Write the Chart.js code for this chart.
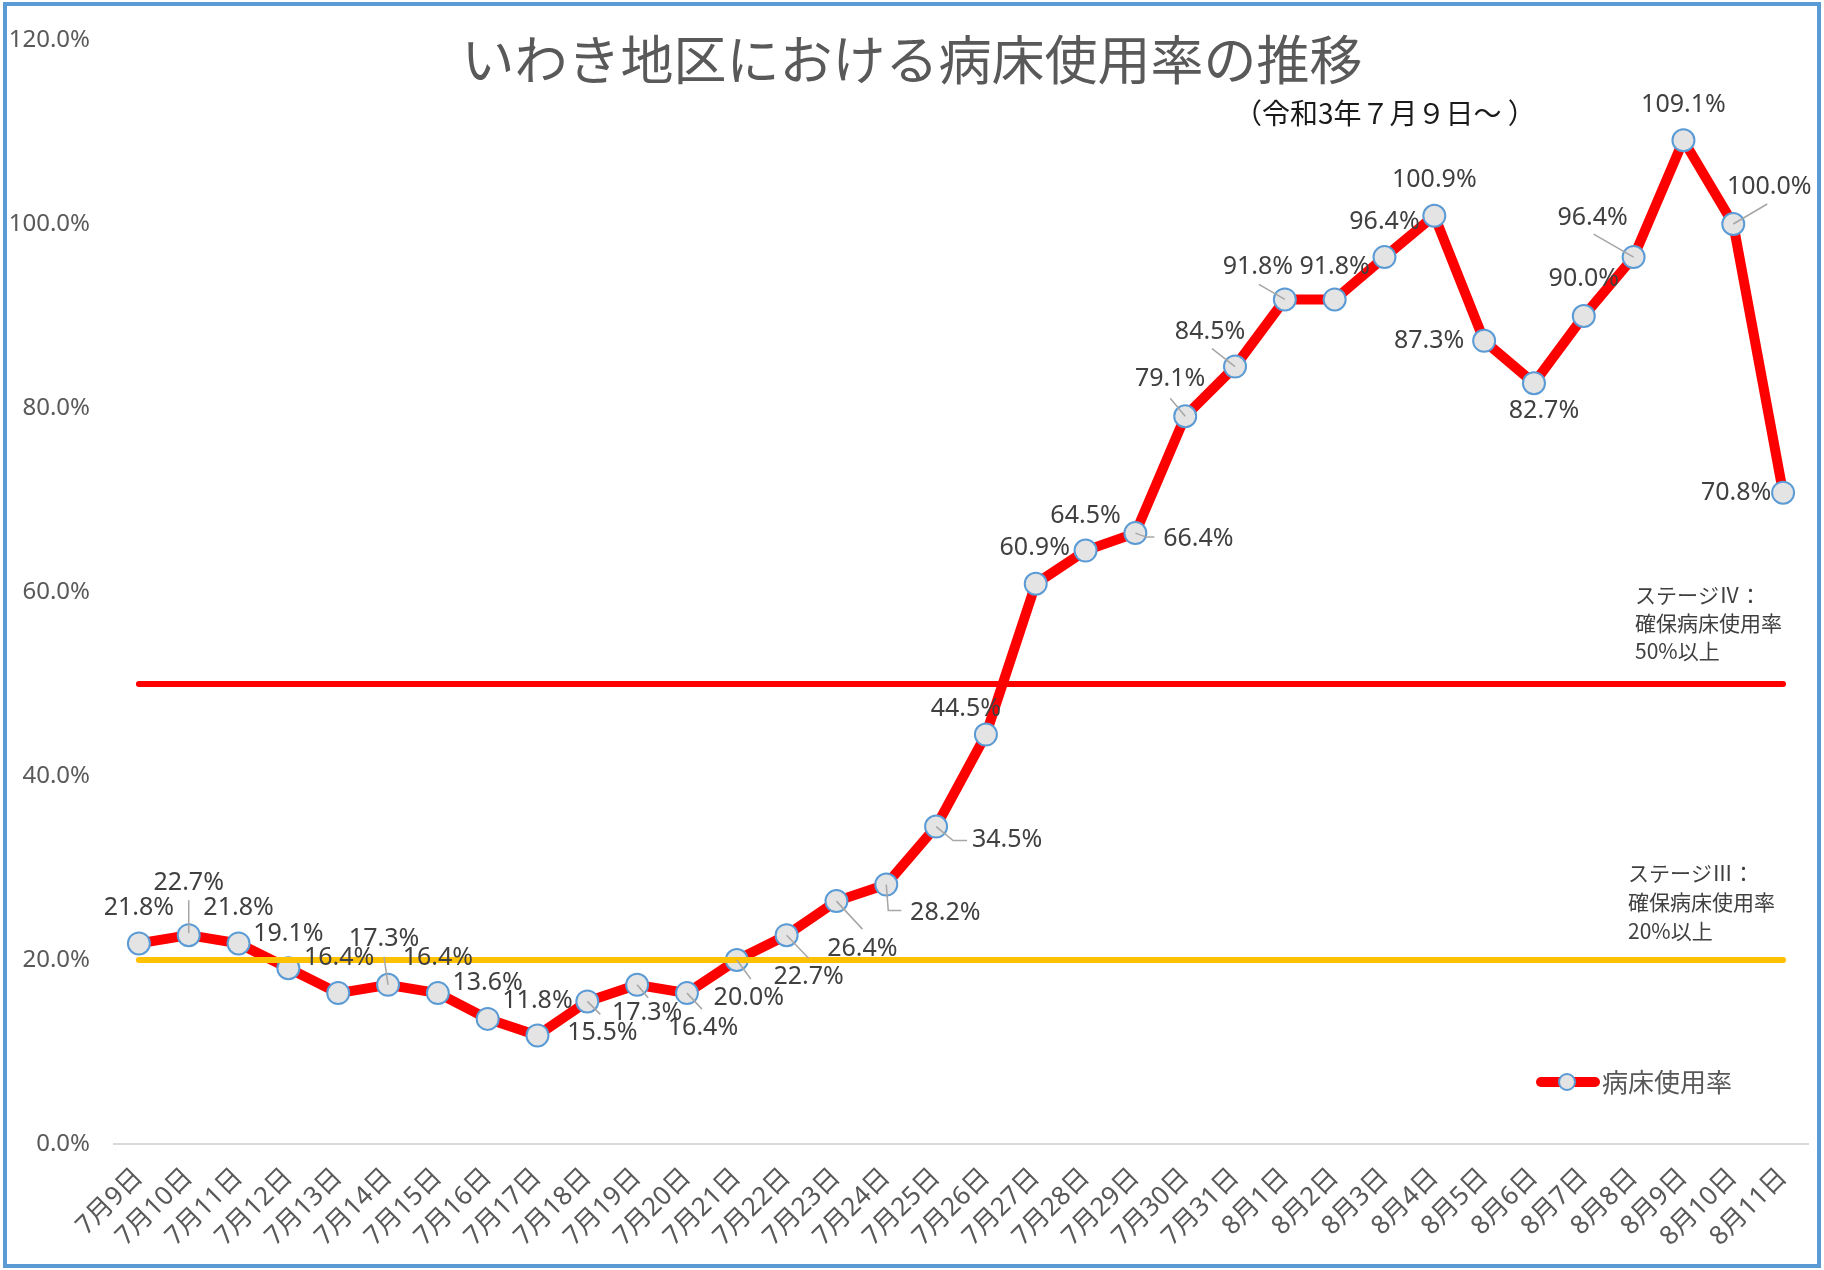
<!DOCTYPE html>
<html>
<head>
<meta charset="utf-8">
<script src="https://cdn.jsdelivr.net/npm/chart.js@4/dist/chart.umd.min.js"></script>
<style>
  body { margin: 0; background: #fff; }
  canvas { display: block; }
</style>
</head>
<body>
<canvas id="line-chart" width="1824" height="1270"></canvas>
<script>
// 日付ラベル
var days = ['7月9日','7月10日','7月11日','7月12日','7月13日','7月14日','7月15日','7月16日','7月17日','7月18日',
  '7月19日','7月20日','7月21日','7月22日','7月23日','7月24日','7月25日','7月26日','7月27日','7月28日',
  '7月29日','7月30日','7月31日','8月1日','8月2日','8月3日','8月4日','8月5日','8月6日','8月7日',
  '8月8日','8月9日','8月10日','8月11日'];

// 病床使用率 (%)
var bedRate = [21.8, 22.7, 21.8, 19.1, 16.4, 17.3, 16.4, 13.6, 11.8, 15.5,
  17.3, 16.4, 20.0, 22.7, 26.4, 28.2, 34.5, 44.5, 60.9, 64.5,
  66.4, 79.1, 84.5, 91.8, 91.8, 96.4, 100.9, 87.3, 82.7, 90.0,
  96.4, 109.1, 100.0, 70.8];

// ステージ基準線
var stage4 = [50,50,50,50,50,50,50,50,50,50,50,50,50,50,50,50,50,50,50,50,50,50,50,50,50,50,50,50,50,50,50,50,50,50];
var stage3 = [20,20,20,20,20,20,20,20,20,20,20,20,20,20,20,20,20,20,20,20,20,20,20,20,20,20,20,20,20,20,20,20,20,20];

var yMin = 0, yMax = 120, yStep = 20;

var titleText = 'いわき地区における病床使用率の推移';
var subTitleText = '（令和3年７月９日～ ）';
var stage4Text = ['ステージⅣ：', '確保病床使用率', '50%以上'];
var stage3Text = ['ステージⅢ：', '確保病床使用率', '20%以上'];
var legendText = '病床使用率';

// データラベルの位置 (点からのずれ)
var labelShift = [[0,-36],[0,-52],[0,-36],[0,-34],[1,-35],[-4,-46],[0,-35],[0,-36],[0,-35],[15,31],
  [10,28],[16,35],[12,38],[22,42],[26,48],[59,28],[71,13],[-20,-26],[-1,-36],[0,-35],
  [63,6],[-15,-37],[-25,-35],[-27,-33],[0,-33],[0,-35],[0,-36],[-55,0],[10,28],[0,-37],
  [-41,-39],[0,-35],[36,-37],[-47,0]];

// 引き出し線
var leaderLines = {
  1: [[0,-2],[0,-35]],
  5: [[0,0],[-4,-28]],
  9: [[0,0],[13,13]],
  10: [[0,0],[11,13]],
  11: [[0,0],[15,16]],
  12: [[0,0],[14,19]],
  13: [[0,0],[22,23]],
  14: [[0,0],[26,28]],
  15: [[0,0],[2,26],[15,26]],
  16: [[0,0],[17,14],[31,14]],
  20: [[0,0],[11,4],[19,4]],
  21: [[0,0],[-15,-18]],
  22: [[0,0],[-23,-18]],
  23: [[0,0],[-26,-15]],
  30: [[0,0],[-40,-23]],
  32: [[0,0],[34,-20]]
};

var numFont = "'Noto Sans', 'Noto Sans CJK JP', sans-serif";
var jpFont = "'Noto Sans CJK JP', sans-serif";

var decoPlugin = {
  id: 'deco',
  beforeDraw: function (chart) {
    var ctx = chart.ctx;
    ctx.save();
    ctx.fillStyle = '#ffffff';
    ctx.fillRect(0, 0, chart.width, chart.height);
    ctx.restore();
  },
  afterDatasetsDraw: function (chart) {
    var ctx = chart.ctx;
    var meta = chart.getDatasetMeta(2);
    ctx.save();
    // 引き出し線
    ctx.strokeStyle = '#A6A6A6';
    ctx.lineWidth = 1.5;
    Object.keys(leaderLines).forEach(function (k) {
      var p = meta.data[k];
      var pts = leaderLines[k];
      ctx.beginPath();
      ctx.moveTo(p.x + pts[0][0], p.y + pts[0][1]);
      for (var j = 1; j < pts.length; j++) ctx.lineTo(p.x + pts[j][0], p.y + pts[j][1]);
      ctx.stroke();
    });
    // データラベル
    ctx.font = '25px ' + numFont;
    ctx.fillStyle = '#404040';
    ctx.textAlign = 'center';
    ctx.textBaseline = 'middle';
    for (var i = 0; i < meta.data.length; i++) {
      var pt = meta.data[i];
      ctx.fillText(bedRate[i].toFixed(1) + '%', pt.x + labelShift[i][0], pt.y + labelShift[i][1]);
    }
    ctx.restore();
  },
  afterDraw: function (chart) {
    var ctx = chart.ctx;
    ctx.save();
    // タイトル
    ctx.fillStyle = '#595959';
    ctx.font = '53px ' + jpFont;
    ctx.textAlign = 'center';
    ctx.textBaseline = 'middle';
    ctx.fillText(titleText, 912, 60);
    ctx.fillStyle = '#1a1a1a';
    ctx.font = '28px ' + jpFont;
    ctx.textAlign = 'left';
    ctx.fillText(subTitleText, 1234, 113);

    // ステージ注記
    ctx.fillStyle = '#404040';
    ctx.font = '21px ' + jpFont;
    stage4Text.forEach(function (t, i) { ctx.fillText(t, 1635, 595 + i * 28); });
    stage3Text.forEach(function (t, i) { ctx.fillText(t, 1628, 873 + i * 29); });

    // 凡例
    var lx = 1537, ly = 1082;
    ctx.strokeStyle = '#FF0000';
    ctx.lineWidth = 10;
    ctx.lineCap = 'round';
    ctx.beginPath();
    ctx.moveTo(lx + 4, ly);
    ctx.lineTo(lx + 58, ly);
    ctx.stroke();
    ctx.beginPath();
    ctx.arc(lx + 30, ly, 8, 0, Math.PI * 2);
    ctx.fillStyle = '#E4E4E4';
    ctx.fill();
    ctx.lineWidth = 2;
    ctx.strokeStyle = '#5B9BD5';
    ctx.stroke();
    ctx.fillStyle = '#595959';
    ctx.font = '26px ' + jpFont;
    ctx.fillText(legendText, 1602, ly);

    // 枠
    ctx.strokeStyle = '#5B9BD5';
    ctx.lineWidth = 4;
    ctx.strokeRect(5, 4, 1814, 1262);
    ctx.restore();
  }
};

var chartData = {
  labels: days,
  datasets: [{
    label: 'ステージⅣ',
    data: stage4,
    borderColor: '#FF0000',
    borderWidth: 6,
    borderCapStyle: 'round',
    pointRadius: 0,
    order: 0
  }, {
    label: 'ステージⅢ',
    data: stage3,
    borderColor: '#FFC000',
    borderWidth: 6,
    borderCapStyle: 'round',
    pointRadius: 0,
    order: 0
  }, {
    label: legendText,
    data: bedRate,
    borderColor: '#FF0000',
    borderWidth: 10,
    borderJoinStyle: 'round',
    pointRadius: 11,
    pointBorderWidth: 2,
    pointBackgroundColor: '#E4E4E4',
    pointBorderColor: '#5B9BD5',
    order: 1
  }]
};

window.onload = function () {
  var ctx = document.getElementById('line-chart').getContext('2d');
  window.lineChart = new Chart(ctx, {
    type: 'line',
    data: chartData,
    plugins: [decoPlugin],
    options: {
      responsive: false,
      animation: false,
      devicePixelRatio: 1,
      layout: { padding: { left: 0, right: 16, top: 40, bottom: 0 } },
      plugins: {
        legend: { display: false },
        title: { display: false },
        tooltip: { enabled: false }
      },
      scales: {
        x: {
          offset: true,
          grid: { display: false },
          border: { display: true, color: '#D9D9D9', width: 2 },
          ticks: {
            autoSkip: false,
            minRotation: 45,
            maxRotation: 45,
            padding: 10,
            color: '#595959',
            font: { family: numFont, size: 26 }
          },
          afterFit: function (scale) { scale.height = 126; }
        },
        y: {
          min: yMin,
          max: yMax,
          grid: { display: false },
          border: { display: false },
          ticks: {
            stepSize: yStep,
            padding: 16,
            color: '#595959',
            font: { family: numFont, size: 24 },
            callback: function (v) { return v.toFixed(1) + '%'; }
          },
          afterFit: function (scale) { scale.width = 114; }
        }
      }
    }
  });
};
</script>
</body>
</html>
